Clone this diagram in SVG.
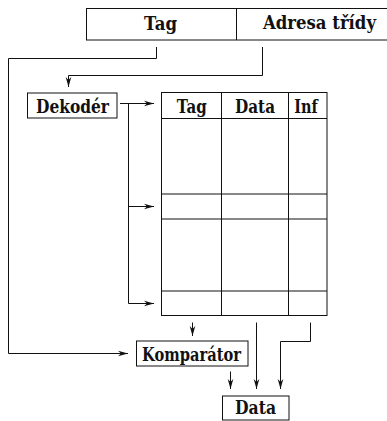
<svg xmlns="http://www.w3.org/2000/svg" width="387" height="421" viewBox="0 0 387 421">
  <style>
    .box { fill: #fff; stroke: #111; stroke-width: 1; }
    .grid { fill: none; stroke: #111; stroke-width: 1; }
    .wire { fill: none; stroke: #111; stroke-width: 1; }
    text { font-family: 'DejaVu Serif', 'Liberation Serif', serif; font-weight: bold; font-size: 18px; fill: #111; text-anchor: middle; }
  </style>
  <defs>
    <marker id="arrow" markerUnits="userSpaceOnUse" markerWidth="12" markerHeight="8" viewBox="0 -4 11 8" refX="10" refY="0" orient="auto">
      <path d="M0,-2.8 L10,0 L0,2.8 L3,0 Z" fill="#111"/>
    </marker>
  </defs>
  <rect width="387" height="421" fill="#fff"/>

  <!-- address register: Tag | Adresa třídy -->
  <g id="address">
    <rect class="box" x="86.5" y="8.5" width="310" height="31.5"/>
    <line class="grid" x1="236.5" y1="8.5" x2="236.5" y2="40"/>
    <text x="160.5" y="30" textLength="33" lengthAdjust="spacingAndGlyphs">Tag</text>
    <text x="319.5" y="29" textLength="113" lengthAdjust="spacingAndGlyphs">Adresa třídy</text>
  </g>

  <!-- decoder -->
  <g id="dekoder">
    <rect class="box" x="27.5" y="93" width="89.5" height="25"/>
    <text x="72.5" y="113" textLength="73" lengthAdjust="spacingAndGlyphs">Dekodér</text>
  </g>

  <!-- cache table -->
  <g id="table">
    <rect class="grid" x="161.5" y="92.5" width="165.5" height="223"/>
    <line class="grid" x1="161.5" y1="118.5" x2="327" y2="118.5"/>
    <line class="grid" x1="161.5" y1="194" x2="327" y2="194"/>
    <line class="grid" x1="161.5" y1="219" x2="327" y2="219"/>
    <line class="grid" x1="161.5" y1="291" x2="327" y2="291"/>
    <line class="grid" x1="221.5" y1="92.5" x2="221.5" y2="315.5"/>
    <line class="grid" x1="288.5" y1="92.5" x2="288.5" y2="315.5"/>
    <text x="191.7" y="113" textLength="30" lengthAdjust="spacingAndGlyphs">Tag</text>
    <text x="255" y="113" textLength="40" lengthAdjust="spacingAndGlyphs">Data</text>
    <text x="306" y="113" textLength="23.5" lengthAdjust="spacingAndGlyphs">Inf</text>
  </g>

  <!-- comparator -->
  <g id="komparator">
    <rect class="box" x="136.5" y="341" width="111.5" height="25"/>
    <text x="191.5" y="360.5" textLength="99" lengthAdjust="spacingAndGlyphs">Komparátor</text>
  </g>

  <!-- data output -->
  <g id="data">
    <rect class="box" x="222.5" y="396" width="66.5" height="24"/>
    <text x="255.5" y="414" textLength="41" lengthAdjust="spacingAndGlyphs">Data</text>
  </g>

  <g id="connectors">
    <path class="wire" d="M156.5,47 V58.5 H8.5 V353.5 H128" marker-end="url(#arrow)"/>
    <path class="wire" d="M262.5,47 V75.5 H68.5 V87" marker-end="url(#arrow)"/>
    <path class="wire" d="M120,103.5 H154" marker-end="url(#arrow)"/>
    <path class="wire" d="M128.5,103.5 V303.5"/>
    <path class="wire" d="M128.5,206.5 H154" marker-end="url(#arrow)"/>
    <path class="wire" d="M128.5,303.5 H154" marker-end="url(#arrow)"/>
    <path class="wire" d="M192.5,322.5 V336" marker-end="url(#arrow)"/>
    <path class="wire" d="M256.5,322.5 V389" marker-end="url(#arrow)"/>
    <path class="wire" d="M310.5,322.5 V341.5 H280.5 V389" marker-end="url(#arrow)"/>
    <path class="wire" d="M230.5,371.5 V389" marker-end="url(#arrow)"/>
  </g>
</svg>
